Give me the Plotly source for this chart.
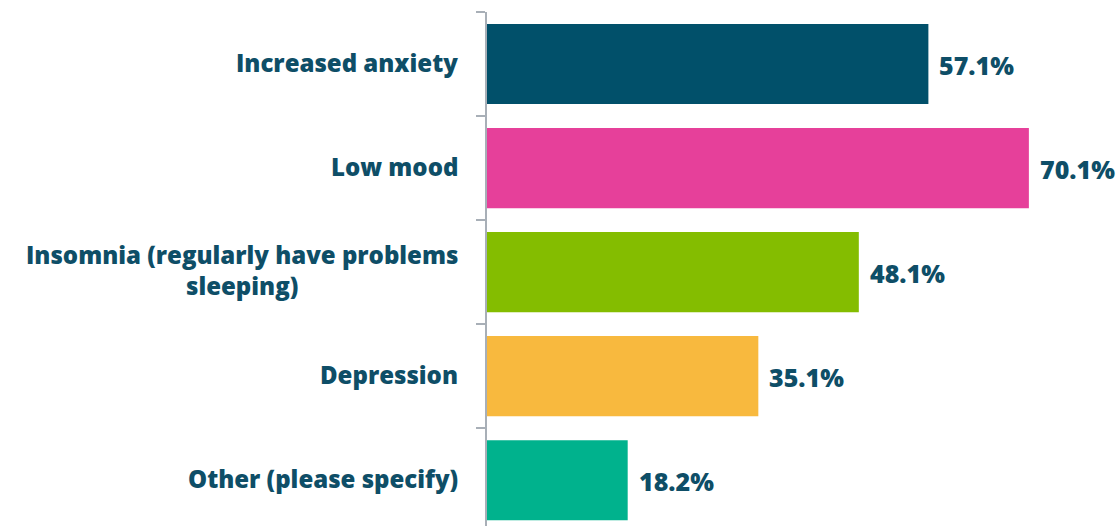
import plotly.graph_objects as go

categories = ["Increased anxiety", "Low mood", "Insomnia (regularly have problems<br>sleeping)", "Depression", "Other (please specify)"]
values = [57.1, 70.1, 48.1, 35.1, 18.2]
value_labels = ["57.1%", "70.1%", "48.1%", "35.1%", "18.2%"]
colors = ["#01506A", "#E6409A", "#84BD00", "#F8B93E", "#00B28D"]

TEXT = "#0E4E67"
FONT = "Open Sans"

fig = go.Figure()
fig.add_trace(go.Bar(
    y=categories, x=values, orientation="h",
    marker=dict(color=colors, line=dict(width=0)),
    width=0.77, hoverinfo="skip",
))

for c, v, t in zip(categories, values, value_labels):
    fig.add_annotation(x=v, y=c, xref="x", yref="y", text=t, showarrow=False,
                       xanchor="left", yanchor="middle", xshift=9, yshift=-1,
                       font=dict(family=FONT, size=25, color=TEXT, weight=800))
    fig.add_annotation(x=0, y=c, xref="paper", yref="y", text=c, showarrow=False,
                       xanchor="right", yanchor="middle", xshift=-27, yshift=2, align="center",
                       font=dict(family=FONT, size=24, color=TEXT, weight=800))

fig.update_layout(
    width=1117, height=526,
    margin=dict(l=487, r=0, t=12, b=0),
    plot_bgcolor="white", paper_bgcolor="white",
    showlegend=False,
    xaxis=dict(range=[0, 81.5], visible=False, showgrid=False, zeroline=False),
    yaxis=dict(type="category", range=[4.44, -0.5], tickson="boundaries",
               showticklabels=False,
               ticks="outside", ticklen=9, tickcolor="#A8AFB7", tickwidth=1.5,
               showline=True, linecolor="#A8AFB7", linewidth=1.5,
               showgrid=False, zeroline=False),
)

fig.write_html("out.html")
